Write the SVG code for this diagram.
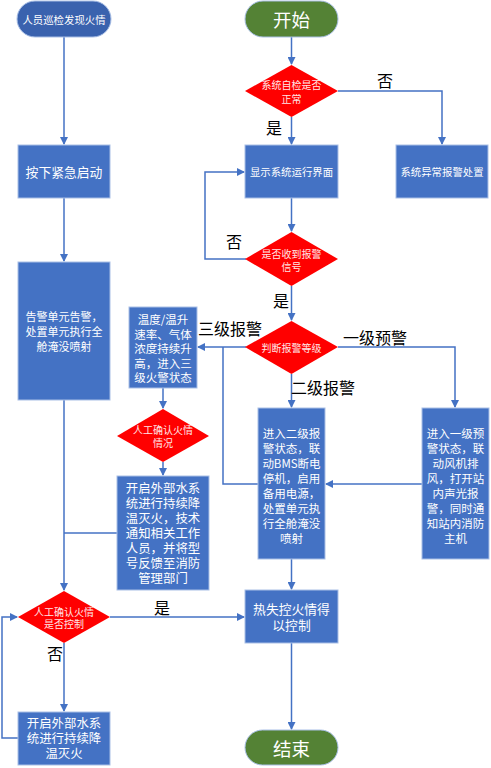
<svg xmlns="http://www.w3.org/2000/svg" width="491" height="768" viewBox="0 0 491 768">
<defs>
<marker id="ah" markerWidth="8" markerHeight="8" refX="7" refY="4" orient="auto" markerUnits="userSpaceOnUse">
<path d="M0,0 L8,4 L0,8 Z" fill="#4472C4"/>
</marker>
<style>
.box{fill:#4472C4;stroke:#A9BFE6;stroke-width:1}
.dia{fill:#FF0000;stroke:none}
.start{fill:#548235;stroke:#A9BFE6;stroke-width:1}
.pill{fill:#3A62AE;stroke:#A9BFE6;stroke-width:1}
.t{font-family:"Noto Sans CJK SC","Liberation Sans",sans-serif;fill:#fff;text-anchor:middle;dominant-baseline:central}
.s10{font-size:10.4px}.s11{font-size:11.5px}.s13{font-size:12.8px}.s12{font-size:12.4px}
.dt{font-family:"Noto Sans CJK SC","Liberation Sans",sans-serif;fill:#FFE6E6;text-anchor:middle;dominant-baseline:central;font-size:10px}
.lbl{font-family:"Noto Sans CJK SC","Liberation Sans",sans-serif;fill:#000;text-anchor:middle;dominant-baseline:central;font-size:16px}
.c{fill:none;stroke:#4472C4;stroke-width:1.5}
</style>
</defs>
<rect width="491" height="768" fill="#fff"/>
<g id="connectors">
<path class="c" d="M64,37 V144" marker-end="url(#ah)"/>
<path class="c" d="M64,198 V261" marker-end="url(#ah)"/>
<path class="c" d="M64,400 V590" marker-end="url(#ah)"/>
<path class="c" d="M291.5,37 V64" marker-end="url(#ah)"/>
<path class="c" d="M291.5,117 V144" marker-end="url(#ah)"/>
<path class="c" d="M338,91 H442 V144" marker-end="url(#ah)"/>
<path class="c" d="M291.5,198 V231" marker-end="url(#ah)"/>
<path class="c" d="M246,259 H205 V172 H244" marker-end="url(#ah)"/>
<path class="c" d="M291.5,286 V320" marker-end="url(#ah)"/>
<path class="c" d="M246,347 H198" marker-end="url(#ah)"/>
<path class="c" d="M258,484 H223 V347"/>
<path class="c" d="M338,347 H455 V407" marker-end="url(#ah)"/>
<path class="c" d="M291.5,374 V407" marker-end="url(#ah)"/>
<path class="c" d="M422,484 H326" marker-end="url(#ah)"/>
<path class="c" d="M163,388 V408" marker-end="url(#ah)"/>
<path class="c" d="M163,462 V475" marker-end="url(#ah)"/>
<path class="c" d="M117,533 H64"/>
<path class="c" d="M110,617 H244" marker-end="url(#ah)"/>
<path class="c" d="M64,643 V711" marker-end="url(#ah)"/>
<path class="c" d="M18,738 H2 V617 H17" marker-end="url(#ah)"/>
<path class="c" d="M291.5,559 V589" marker-end="url(#ah)"/>
<path class="c" d="M291.5,643 V729" marker-end="url(#ah)"/>
<text class="lbl" x="385" y="80">否</text>
<text class="lbl" x="274" y="127">是</text>
<text class="lbl" x="234" y="241">否</text>
<text class="lbl" x="281" y="300">是</text>
<text class="lbl" x="375" y="337">一级预警</text>
<text class="lbl" x="230" y="328">三级报警</text>
<text class="lbl" x="323" y="387">二级报警</text>
<text class="lbl" x="162" y="607">是</text>
<text class="lbl" x="55" y="653">否</text>
</g>
<g id="n_patrol">
<rect class="pill" x="17" y="1" width="94" height="36" rx="18"/>
<text class="t s10" x="64" y="19">人员巡检发现火情</text>
</g>
<g id="n_button">
<rect class="box" x="18" y="145" width="92" height="53"/>
<text class="t s13" x="64" y="171.5">按下紧急启动</text>
</g>
<g id="n_alarm">
<rect class="box" x="18" y="262" width="92" height="138"/>
<text class="t" style="font-size:11px" x="64" y="316">告警单元告警，</text>
<text class="t" style="font-size:11px" x="64" y="331">处置单元执行全</text>
<text class="t" style="font-size:11px" x="64" y="346">舱淹没喷射</text>
</g>
<g id="n_start">
<rect class="start" x="245" y="1" width="93" height="36" rx="18"/>
<text class="t" x="291.5" y="19" style="font-size:18.5px">开始</text>
</g>
<g id="n_check">
<polygon class="dia" points="291.5,65 338,91 291.5,117 245,91"/>
<text class="dt" x="291.5" y="84">系统自检是否</text>
<text class="dt" x="291.5" y="98">正常</text>
</g>
<g id="n_display">
<rect class="box" x="245" y="145" width="93" height="53"/>
<text class="t s10" x="291.5" y="171.5">显示系统运行界面</text>
</g>
<g id="n_abnormal">
<rect class="box" x="396" y="145" width="92" height="53"/>
<text class="t s10" x="442" y="171.5">系统异常报警处置</text>
</g>
<g id="n_signal">
<polygon class="dia" points="291.5,232 338,259 291.5,286 245,259"/>
<text class="dt" x="291.5" y="253">是否收到报警</text>
<text class="dt" x="291.5" y="266">信号</text>
</g>
<g id="n_level">
<polygon class="dia" points="291.5,321 338,347 291.5,374 245,347"/>
<text class="dt" x="291.5" y="347">判断报警等级</text>
</g>
<g id="n_level3">
<rect class="box" x="129" y="307" width="68" height="81"/>
<text class="t s11" x="163" y="319">温度/温升</text>
<text class="t s11" x="163" y="333.5">速率、气体</text>
<text class="t s11" x="163" y="348">浓度持续升</text>
<text class="t s11" x="163" y="362.5">高，进入三</text>
<text class="t s11" x="163" y="377">级火警状态</text>
</g>
<g id="n_confirm1">
<polygon class="dia" points="163,409 209,436 163,462 117,436"/>
<text class="dt" x="163" y="429">人工确认火情</text>
<text class="dt" x="163" y="442">情况</text>
</g>
<g id="n_water1">
<rect class="box" x="117" y="476" width="92" height="114"/>
<text class="t s12" x="163" y="488">开启外部水系</text>
<text class="t s12" x="163" y="503">统进行持续降</text>
<text class="t s12" x="163" y="518">温灭火，技术</text>
<text class="t s12" x="163" y="533">通知相关工作</text>
<text class="t s12" x="163" y="548">人员，并将型</text>
<text class="t s12" x="163" y="563">号反馈至消防</text>
<text class="t s12" x="163" y="578">管理部门</text>
</g>
<g id="n_level2">
<rect class="box" x="258" y="408" width="67" height="151"/>
<text class="t s11" x="291.5" y="433">进入二级报</text>
<text class="t s11" x="291.5" y="448">警状态，联</text>
<text class="t s11" x="291.5" y="463">动BMS断电</text>
<text class="t s11" x="291.5" y="478">停机，启用</text>
<text class="t s11" x="291.5" y="493">备用电源，</text>
<text class="t s11" x="291.5" y="508">处置单元执</text>
<text class="t s11" x="291.5" y="523">行全舱淹没</text>
<text class="t s11" x="291.5" y="538">喷射</text>
</g>
<g id="n_level1">
<rect class="box" x="422" y="408" width="67" height="151"/>
<text class="t s11" x="455.5" y="433">进入一级预</text>
<text class="t s11" x="455.5" y="448">警状态，联</text>
<text class="t s11" x="455.5" y="463">动风机排</text>
<text class="t s11" x="455.5" y="478">风，打开站</text>
<text class="t s11" x="455.5" y="493">内声光报</text>
<text class="t s11" x="455.5" y="508">警，同时通</text>
<text class="t s11" x="455.5" y="523">知站内消防</text>
<text class="t s11" x="455.5" y="538">主机</text>
</g>
<g id="n_confirm2">
<polygon class="dia" points="64,591 110,617 64,643 18,617"/>
<text class="dt" x="64" y="611">人工确认火情</text>
<text class="dt" x="64" y="623">是否控制</text>
</g>
<g id="n_controlled">
<rect class="box" x="245" y="590" width="93" height="53"/>
<text class="t s13" x="291.5" y="608">热失控火情得</text>
<text class="t s13" x="291.5" y="624">以控制</text>
</g>
<g id="n_water2">
<rect class="box" x="18" y="712" width="92" height="53"/>
<text class="t s12" x="64" y="723">开启外部水系</text>
<text class="t s12" x="64" y="738">统进行持续降</text>
<text class="t s12" x="64" y="753">温灭火</text>
</g>
<g id="n_end">
<rect class="start" x="245" y="730" width="93" height="35" rx="17.5"/>
<text class="t" x="291.5" y="747.5" style="font-size:18.5px">结束</text>
</g>
</svg>
